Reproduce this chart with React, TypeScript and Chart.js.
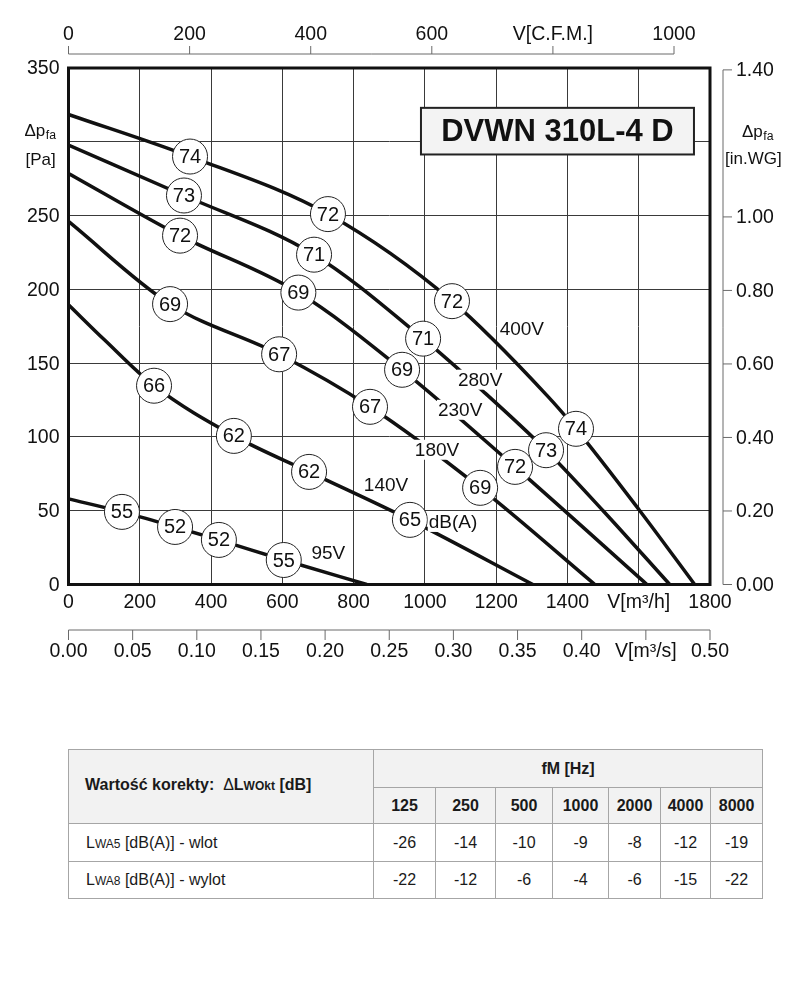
import React, { useEffect, useRef } from "react";
import { Chart, registerables } from "chart.js";

Chart.register(...registerables);

const FONT = '"Liberation Sans", Arial, Helvetica, sans-serif';
const INK = "#111111";

// ---- axis ticks ----
const flowTicks = [0, 200, 400, 600, 800, 1000, 1200, 1400, 1600, 1800];
const pressureTicks = [0, 50, 100, 150, 200, 250, 300, 350];
const pressureHidden = [300];
const cfmTicks = [0, 200, 400, 600, 800, 1000];
const inwgTicks = [0, 0.2, 0.4, 0.6, 0.8, 1.0, 1.4];
const m3sTicks = [0, 0.05, 0.1, 0.15, 0.2, 0.25, 0.3, 0.35, 0.4, 0.45, 0.5];

const M3H_PER_CFM = 1.69901;
const PA_PER_INWG = 249.089;
const M3H_PER_M3S = 3600;

// ---- fan curves (V [m3/h], dp [Pa]) ----
const flow400V = [0, 341, 728, 1076, 1343, 1424, 1603, 1757];
const pres400V = [318.5, 290, 251, 192, 128, 105.5, 50, 0];

const flow280V = [0, 324, 689, 995, 1163, 1340, 1500, 1687];
const pres280V = [297.7, 263.6, 223.5, 166.6, 131, 91, 50, 0];

const flow230V = [0, 313, 645, 936, 1253, 1623];
const pres230V = [278.5, 236.4, 197.8, 145.5, 79.7, 0];

const flow180V = [0, 285, 591, 846, 1155, 1477];
const pres180V = [246, 190, 156, 120.4, 65.5, 0];

const flow140V = [0, 100, 240, 464, 675, 958, 1303];
const pres140V = [189.6, 166, 134.7, 100.7, 76.3, 43.8, 0];

const flow95V = [0, 150, 299, 422, 604, 837];
const pres95V = [58, 49.2, 39, 30.2, 16.6, 0];

// ---- sound level markers ----
const ratingFlow = [341, 728, 1076, 1424, 324, 689, 995, 1340, 313, 645, 936, 1253, 285, 591, 846, 1155, 240, 464, 675, 958, 150, 299, 422, 604];
const ratingPres = [290, 251, 192, 105.5, 263.6, 223.5, 166.6, 91, 236.4, 197.8, 145.5, 79.7, 190, 156, 120.4, 65.5, 134.7, 100.7, 76.3, 43.8, 49.2, 39, 30.2, 16.6];
const ratingDb = ["74", "72", "72", "74", "73", "71", "71", "73", "72", "69", "69", "72", "69", "67", "67", "69", "66", "62", "62", "65", "55", "52", "52", "55"];

// ---- curve annotations ----
const voltText = ["400V", "280V", "230V", "180V", "140V", "95V", "dB(A)"];
const voltFlow = [1272, 1155, 1099, 1034, 891, 729, 1079];
const voltPres = [173.3, 138.8, 118.4, 91.3, 67.5, 21.4, 42.4];

const titleText = "DVWN 310L-4 D";
const titleFlow = [989, 1755];
const titlePres = [291.4, 323];

// ---- correction table ----
const tableFreq = ["125", "250", "500", "1000", "2000", "4000", "8000"];
const inletValues = [-26, -14, -10, -9, -8, -12, -19];
const outletValues = [-22, -12, -6, -4, -6, -15, -22];

const curves = [
  { name: "400V", flow: flow400V, pres: pres400V },
  { name: "280V", flow: flow280V, pres: pres280V },
  { name: "230V", flow: flow230V, pres: pres230V },
  { name: "180V", flow: flow180V, pres: pres180V },
  { name: "140V", flow: flow140V, pres: pres140V },
  { name: "95V", flow: flow95V, pres: pres95V },
];

function drawDeltaP(ctx: CanvasRenderingContext2D, left: number, y: number, size: number) {
  ctx.textAlign = "left";
  ctx.textBaseline = "middle";
  ctx.font = `${size}px ${FONT}`;
  ctx.fillText("Δp", left, y);
  const w = ctx.measureText("Δp").width;
  ctx.font = `${size * 0.72}px ${FONT}`;
  ctx.fillText("fa", left + w + 0.5, y + 5);
}

const decor = {
  id: "decor",
  afterDatasetsDraw(chart: any) {
    const { ctx, chartArea: a, scales } = chart;
    const x = scales.x;
    const y = scales.y;
    ctx.save();

    // voltage labels with white background
    ctx.font = `19px ${FONT}`;
    ctx.textAlign = "center";
    ctx.textBaseline = "middle";
    voltText.forEach((t, i) => {
      const px = x.getPixelForValue(voltFlow[i]);
      const py = y.getPixelForValue(voltPres[i]);
      const w = ctx.measureText(t).width;
      ctx.fillStyle = "#ffffff";
      ctx.fillRect(px - w / 2 - 1, py - 10, w + 2, 20);
      ctx.fillStyle = INK;
      ctx.fillText(t, px, py + 1);
    });

    // numbers inside circles
    ctx.font = `20px ${FONT}`;
    ctx.fillStyle = INK;
    ratingFlow.forEach((q, i) => {
      ctx.fillText(ratingDb[i], x.getPixelForValue(q), y.getPixelForValue(ratingPres[i]) + 1);
    });

    // frame
    ctx.strokeStyle = INK;
    ctx.lineWidth = 3;
    ctx.strokeRect(a.left, a.top, a.right - a.left, a.bottom - a.top);

    // title box
    const bx0 = x.getPixelForValue(titleFlow[0]);
    const bx1 = x.getPixelForValue(titleFlow[1]);
    const by0 = y.getPixelForValue(titlePres[1]);
    const by1 = y.getPixelForValue(titlePres[0]);
    ctx.fillStyle = "#f3f3f3";
    ctx.fillRect(bx0, by0, bx1 - bx0, by1 - by0);
    ctx.strokeStyle = "#222";
    ctx.lineWidth = 2;
    ctx.strokeRect(bx0, by0, bx1 - bx0, by1 - by0);
    ctx.fillStyle = INK;
    ctx.font = `bold 31px ${FONT}`;
    ctx.textAlign = "center";
    ctx.fillText(titleText, (bx0 + bx1) / 2, (by0 + by1) / 2 + 1);

    ctx.restore();
  },
  afterDraw(chart: any) {
    const { ctx, chartArea: a, scales } = chart;
    const x = scales.x;
    const y = scales.y;
    ctx.save();
    ctx.strokeStyle = "#6a6a6a";
    ctx.lineWidth = 1;
    ctx.fillStyle = INK;
    ctx.font = `19.5px ${FONT}`;
    ctx.textBaseline = "middle";

    // top CFM axis
    const topLine = a.top - 14;
    const cfmPx = cfmTicks.map((v) => x.getPixelForValue(v * M3H_PER_CFM));
    ctx.beginPath();
    ctx.moveTo(cfmPx[0], topLine);
    ctx.lineTo(cfmPx[cfmPx.length - 1], topLine);
    cfmPx.forEach((p) => {
      ctx.moveTo(p, topLine);
      ctx.lineTo(p, topLine - 8);
    });
    ctx.stroke();
    ctx.textAlign = "center";
    cfmTicks.forEach((v, i) => {
      ctx.fillText(v === 800 ? "V[C.F.M.]" : String(v), cfmPx[i], topLine - 19);
    });

    // right in.WG axis
    const rightLine = a.right + 13;
    const wgPx = inwgTicks.map((v) => y.getPixelForValue(v * PA_PER_INWG));
    ctx.beginPath();
    ctx.moveTo(rightLine, wgPx[0]);
    ctx.lineTo(rightLine, wgPx[wgPx.length - 1]);
    wgPx.forEach((p) => {
      ctx.moveTo(rightLine, p);
      ctx.lineTo(rightLine + 9, p);
    });
    ctx.stroke();
    ctx.textAlign = "left";
    inwgTicks.forEach((v, i) => {
      ctx.fillText(v.toFixed(2), rightLine + 13, wgPx[i] + 1);
    });

    // bottom m3/s axis
    const botLine = a.bottom + 45.5;
    const msPx = m3sTicks.map((v) => x.getPixelForValue(v * M3H_PER_M3S));
    ctx.beginPath();
    ctx.moveTo(msPx[0], botLine);
    ctx.lineTo(msPx[msPx.length - 1], botLine);
    msPx.forEach((p) => {
      ctx.moveTo(p, botLine);
      ctx.lineTo(p, botLine + 10);
    });
    ctx.stroke();
    ctx.textAlign = "center";
    m3sTicks.forEach((v, i) => {
      const label = Math.abs(v - 0.45) < 1e-9 ? "V[m³/s]" : v.toFixed(2);
      ctx.fillText(label, msPx[i], botLine + 22);
    });

    // axis titles
    ctx.fillStyle = INK;
    drawDeltaP(ctx, a.left - 44, a.top + 63, 17);
    ctx.font = `17px ${FONT}`;
    ctx.textAlign = "left";
    ctx.fillText("[Pa]", a.left - 43, a.top + 92);

    drawDeltaP(ctx, a.right + 32, a.top + 64, 17);
    ctx.font = `17px ${FONT}`;
    ctx.textAlign = "left";
    ctx.fillText("[in.WG]", a.right + 15, a.top + 91);

    ctx.restore();
  },
};

function FanChart() {
  const ref = useRef<HTMLCanvasElement | null>(null);
  useEffect(() => {
    if (!ref.current) return;
    const datasets: any[] = [
      {
        label: "ratings",
        data: ratingFlow.map((q, i) => ({ x: q, y: ratingPres[i] })),
        showLine: false,
        pointRadius: 17.5,
        pointHoverRadius: 17.5,
        pointBackgroundColor: "#ffffff",
        pointBorderColor: "#222222",
        pointBorderWidth: 1,
        order: -1,
      },
      ...curves.map((c) => ({
        label: c.name,
        data: c.flow.map((q, i) => ({ x: q, y: c.pres[i] })),
        borderColor: INK,
        borderWidth: 3.5,
        pointRadius: 0,
        pointHoverRadius: 0,
        cubicInterpolationMode: "monotone",
        fill: false,
        borderCapStyle: "butt",
      })),
    ];
    const chart = new Chart(ref.current, {
      type: "line",
      data: { datasets },
      plugins: [decor],
      options: {
        responsive: false,
        animation: false,
        events: [],
        layout: { padding: { left: 0, right: 90, top: 68, bottom: 65.5 } },
        plugins: { legend: { display: false }, tooltip: { enabled: false } },
        scales: {
          x: {
            type: "linear",
            min: 0,
            max: 1800,
            afterBuildTicks: (ax: any) => {
              ax.ticks = flowTicks.map((v) => ({ value: v }));
            },
            afterFit: (s: any) => {
              s.height = 30;
            },
            ticks: {
              autoSkip: false,
              maxRotation: 0,
              padding: 6,
              color: INK,
              font: { family: FONT, size: 19.5 },
              callback: (v: any) => (v === 1600 ? "V[m³/h]" : String(v)),
            },
            grid: { color: "#3a3a3a", lineWidth: 1, drawTicks: false },
            border: { display: false },
          },
          y: {
            type: "linear",
            min: 0,
            max: 350,
            afterBuildTicks: (ax: any) => {
              ax.ticks = pressureTicks.map((v) => ({ value: v }));
            },
            afterFit: (s: any) => {
              s.width = 68.5;
            },
            ticks: {
              padding: 9,
              labelOffset: 1,
              color: INK,
              font: { family: FONT, size: 19.5 },
              callback: (v: any) => (pressureHidden.includes(v) ? "" : String(v)),
            },
            grid: { color: "#3a3a3a", lineWidth: 1, drawTicks: false },
            border: { display: false },
          },
        },
      } as any,
    });
    return () => chart.destroy();
  }, []);
  return <canvas ref={ref} width={800} height={680} style={{ width: 800, height: 680, display: "block" }} />;
}

const cell: React.CSSProperties = {
  border: "1px solid #a6a6a6",
  padding: 0,
  textAlign: "center",
  verticalAlign: "middle",
  color: "#1a1a1a",
};
const head: React.CSSProperties = { ...cell, background: "#f2f2f2", fontWeight: "bold", fontSize: 16 };
const colWidths = [305, 62, 60, 57, 56, 52, 50, 52];

function CorrectionTable() {
  return (
    <table
      style={{
        position: "absolute",
        left: 68,
        top: 749,
        width: 694,
        borderCollapse: "collapse",
        tableLayout: "fixed",
        fontFamily: FONT,
        fontSize: 15,
      }}
    >
      <colgroup>
        {colWidths.map((w, i) => (
          <col key={i} style={{ width: w }} />
        ))}
      </colgroup>
      <tbody>
        <tr style={{ height: 38 }}>
          <td rowSpan={2} style={{ ...head, textAlign: "left", paddingLeft: 16, paddingBottom: 4 }}>
            Wartość korekty:&nbsp;&nbsp;<span style={{ fontWeight: "normal" }}>Δ</span>L
            <span style={{ fontSize: 12 }}>WOkt</span> [dB]
          </td>
          <td colSpan={7} style={head}>
            fM [Hz]
          </td>
        </tr>
        <tr style={{ height: 36 }}>
          {tableFreq.map((f) => (
            <td key={f} style={head}>
              {f}
            </td>
          ))}
        </tr>
        <tr style={{ height: 38 }}>
          <td style={{ ...cell, textAlign: "left", paddingLeft: 17, fontSize: 16 }}>
            L<span style={{ fontSize: 12 }}>WA5</span> [dB(A)] - wlot
          </td>
          {inletValues.map((v, i) => (
            <td key={i} style={{ ...cell, fontSize: 16 }}>
              {v}
            </td>
          ))}
        </tr>
        <tr style={{ height: 37 }}>
          <td style={{ ...cell, textAlign: "left", paddingLeft: 17, fontSize: 16 }}>
            L<span style={{ fontSize: 12 }}>WA8</span> [dB(A)] - wylot
          </td>
          {outletValues.map((v, i) => (
            <td key={i} style={{ ...cell, fontSize: 16 }}>
              {v}
            </td>
          ))}
        </tr>
      </tbody>
    </table>
  );
}

export default function App() {
  return (
    <div style={{ position: "absolute", left: 0, top: 0, width: 800, height: 1000, background: "#ffffff" }}>
      <FanChart />
      <CorrectionTable />
    </div>
  );
}
